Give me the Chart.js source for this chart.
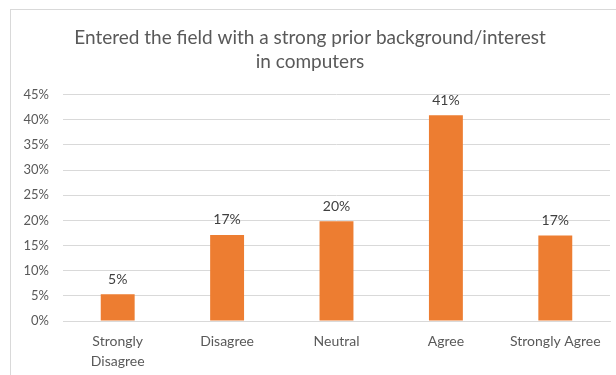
<!DOCTYPE html>
<html>
<head>
<meta charset="utf-8">
<script src="https://cdn.jsdelivr.net/npm/chart.js@4"></script>
<style>
  html, body { margin: 0; padding: 0; background: #fff; }
  #wrap { position: relative; width: 616px; height: 375px; overflow: hidden; }
  #frame { position: absolute; left: 10px; top: 9px; width: 640px; height: 400px; border: 1px solid #d9d9d9; box-sizing: border-box; }
  canvas { position: absolute; left: 0; top: 0; }
</style>
</head>
<body>
<div id="wrap">
  <div id="frame"></div>
  <canvas id="chart" width="616" height="375"></canvas>
</div>
<script>
// data
var categories = [['Strongly', 'Disagree'], 'Disagree', 'Neutral', 'Agree', 'Strongly Agree'];
var shares = [5.3, 17.1, 19.8, 40.9, 17.0];
var shareLabels = ['5%', '17%', '20%', '41%', '17%'];
var titleLines = ['Entered the field with a strong prior background/interest', 'in computers'];

var FONT = 'Lato, "Open Sans", sans-serif';

// labels above bars
var barLabels = {
  id: 'barLabels',
  afterDatasetsDraw: function (chart) {
    var ctx = chart.ctx;
    var meta = chart.getDatasetMeta(0);
    ctx.save();
    ctx.font = '14px ' + FONT;
    ctx.fillStyle = '#404040';
    ctx.textAlign = 'center';
    ctx.textBaseline = 'middle';
    meta.data.forEach(function (bar, i) {
      ctx.fillText(shareLabels[i], bar.x, bar.y - 15);
    });
    ctx.restore();
  }
};

var ctx = document.getElementById('chart').getContext('2d');
var myChart = new Chart(ctx, {
  type: 'bar',
  data: {
    labels: categories,
    datasets: [{
      data: shares,
      backgroundColor: '#ED7D31',
      borderWidth: 0,
      barPercentage: 0.31,
      categoryPercentage: 1
    }]
  },
  plugins: [barLabels],
  options: {
    responsive: false,
    animation: false,
    layout: { padding: { left: 10, right: 6, top: 0, bottom: 4 } },
    plugins: {
      legend: { display: false },
      tooltip: { enabled: false },
      title: {
        display: true,
        text: titleLines,
        color: '#595959',
        font: { family: FONT, size: 19, weight: 'normal', lineHeight: 1.25 },
        padding: { top: 26, bottom: 21 }
      }
    },
    scales: {
      x: {
        afterFit: function (scale) { scale.height = 50; },
        grid: { display: false, drawTicks: false },
        border: { color: '#d9d9d9' },
        ticks: {
          color: '#595959',
          font: { family: FONT, size: 14, lineHeight: 1.43 },
          padding: 10,
          maxRotation: 0,
          autoSkip: false
        }
      },
      y: {
        min: 0,
        max: 45,
        afterFit: function (scale) { scale.width = 53; },
        grid: { color: '#d9d9d9', drawTicks: false },
        border: { display: false },
        ticks: {
          stepSize: 5,
          color: '#595959',
          font: { family: FONT, size: 13 },
          padding: 14,
          callback: function (v) { return v + '%'; }
        }
      }
    }
  }
});
</script>
</body>
</html>
